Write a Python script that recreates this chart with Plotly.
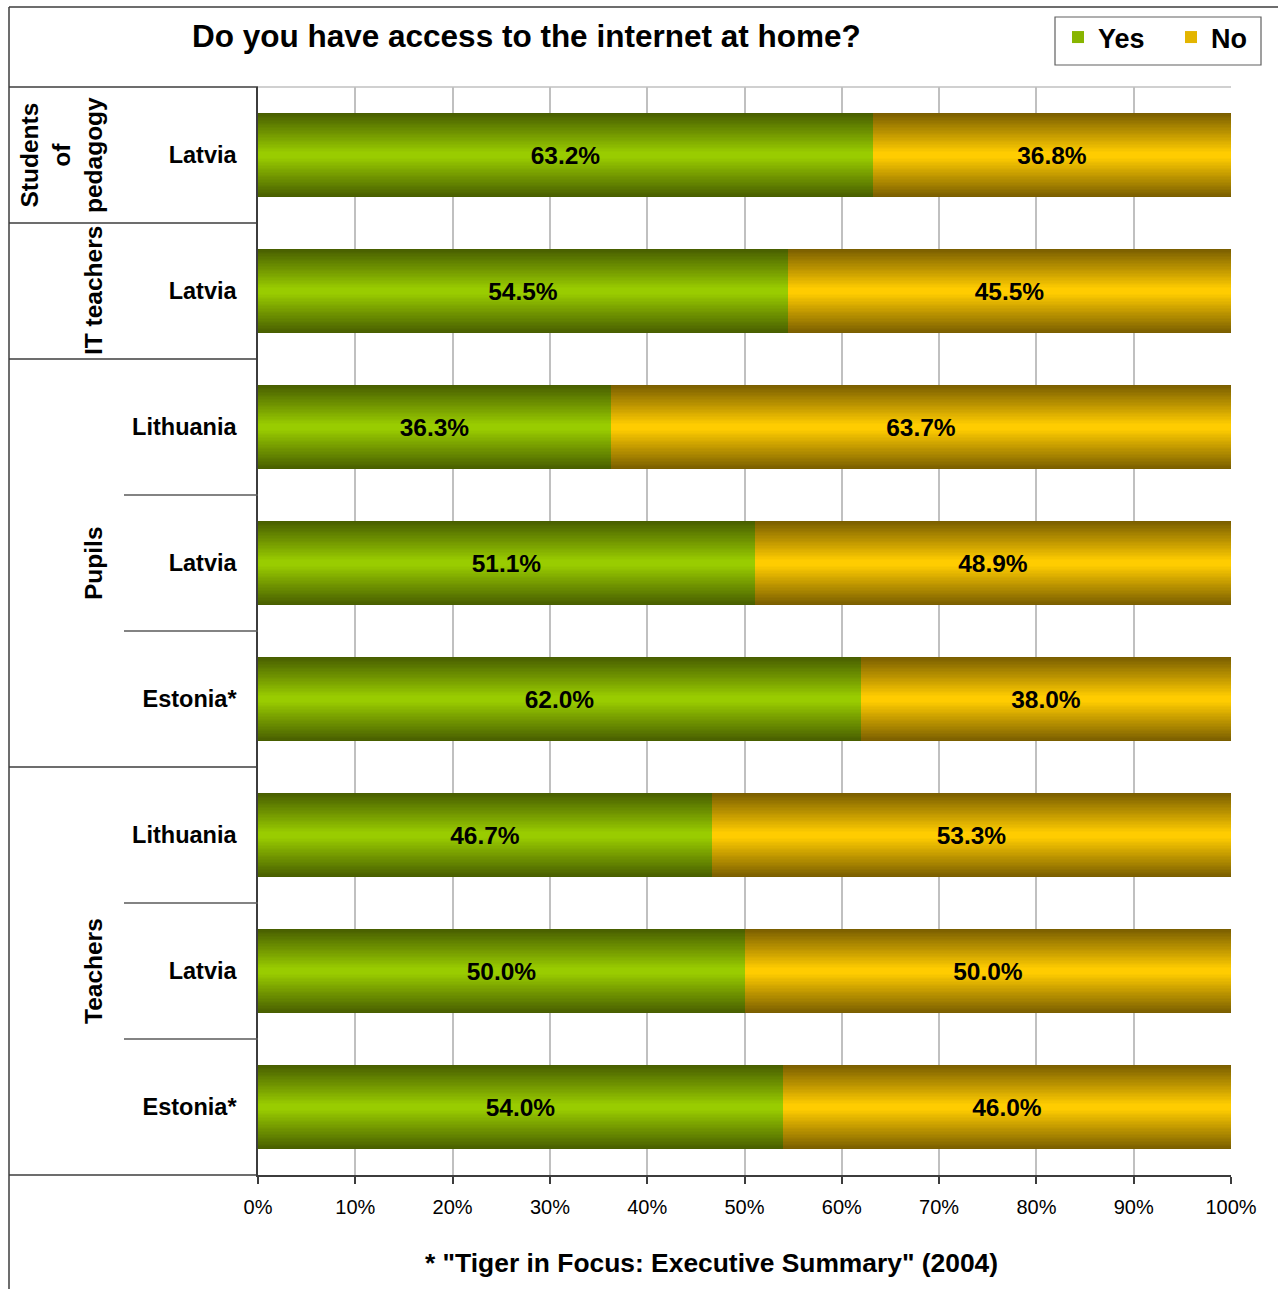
import plotly.graph_objects as go

# ---- data -------------------------------------------------------------
groups = ["Students of pedagogy", "IT teachers", "Pupils", "Pupils", "Pupils",
          "Teachers", "Teachers", "Teachers"]
countries = ["Latvia", "Latvia", "Lithuania", "Latvia", "Estonia*",
             "Lithuania", "Latvia", "Estonia*"]
yes_pct = [63.2, 54.5, 36.3, 51.1, 62.0, 46.7, 50.0, 54.0]
no_pct = [36.8, 45.5, 63.7, 48.9, 38.0, 53.3, 50.0, 46.0]
x_ticks = [0, 10, 20, 30, 40, 50, 60, 70, 80, 90, 100]
x_tick_labels = ["0%", "10%", "20%", "30%", "40%", "50%",
                 "60%", "70%", "80%", "90%", "100%"]

title_text = "Do you have access to the internet at home?"
source_note = '* "Tiger in Focus: Executive Summary" (2004)'

# ---- styling ----------------------------------------------------------
FONT = "Liberation Sans, Arial, sans-serif"
W, H = 1278, 1289
ML, MR, MT, MB = 258, 47, 87, 114
PW, PH = W - ML - MR, H - MT - MB
BAR_W = 0.62
N_LAYERS = 30

yes_edge, yes_mid = (72, 94, 0), (153, 204, 0)
no_edge, no_mid = (122, 94, 0), (255, 204, 0)


def px(x):
    return (x - ML) / PW


def py(y):
    return (H - MB - y) / PH


def mix(a, b, t):
    return "rgb(%d,%d,%d)" % tuple(round(a[i] + (b[i] - a[i]) * t) for i in range(3))


rows = list(range(len(countries)))
fig = go.Figure()


def add_series(name, values, base, edge, mid, legend_id):
    # stacked overlays of shrinking height give the vertical shading
    for k in range(N_LAYERS):
        s = k / N_LAYERS
        fig.add_trace(go.Bar(
            y=rows, x=values, base=base, orientation="h",
            width=BAR_W * (1 - s),
            marker=dict(color=mix(edge, mid, min(1.0, s * 1.08)), line=dict(width=0)),
            name=name, legendgroup=name, legend=legend_id,
            showlegend=(k == 22),
            hoverinfo="skip",
        ))


add_series("Yes", yes_pct, [0] * len(yes_pct), yes_edge, yes_mid, "legend")
add_series("No", no_pct, yes_pct, no_edge, no_mid, "legend2")

# value labels on transparent full-size bars
for vals, base in ((yes_pct, [0] * len(yes_pct)), (no_pct, yes_pct)):
    fig.add_trace(go.Bar(
        y=rows, x=vals, base=base, orientation="h", width=BAR_W,
        marker=dict(color="rgba(0,0,0,0)", line=dict(width=0)),
        texttemplate="%{x:.1f}%", textposition="inside",
        insidetextanchor="middle", textangle=0, constraintext="none",
        textfont=dict(family=FONT, size=24.5, color="black", weight="bold"),
        showlegend=False, hoverinfo="skip",
    ))

# ---- frame and category dividers ---------------------------------------
dark = "#3c3c3c"
shapes = [
    dict(type="line", xref="paper", yref="paper", x0=px(9), x1=px(9), y0=py(7), y1=py(H + 5),
         line=dict(color=dark, width=1.5)),
    dict(type="line", xref="paper", yref="paper", x0=px(9), x1=px(W + 5), y0=py(7), y1=py(7),
         line=dict(color=dark, width=1.5)),
    dict(type="line", xref="paper", yref="paper", x0=px(9), x1=0, y0=1, y1=1,
         line=dict(color=dark, width=1.5)),
    dict(type="line", xref="paper", yref="paper", x0=0, x1=1, y0=1, y1=1,
         line=dict(color="#c0c0c0", width=1.5)),
    dict(type="line", xref="paper", yref="paper", x0=px(9), x1=0, y0=0, y1=0,
         line=dict(color=dark, width=1.5)),
    # legend frame
    dict(type="rect", xref="paper", yref="paper", x0=px(1055), x1=px(1261),
         y0=py(65), y1=py(17), fillcolor="white", line=dict(color="#606060", width=1.2)),
]
for i in range(len(rows) - 1):
    boundary = i + 0.5
    new_group = groups[i] != groups[i + 1]
    shapes.append(dict(
        type="line", xref="paper", yref="y",
        x0=px(9) if new_group else px(124), x1=0, y0=boundary, y1=boundary,
        line=dict(color=dark if new_group else "#5a5a5a", width=1.5),
    ))

# ---- group labels ------------------------------------------------------
annotations = []
seen = []
for g in groups:
    if g not in seen:
        seen.append(g)
for g in seen:
    idx = [i for i, gg in enumerate(groups) if gg == g]
    centre = sum(idx) / len(idx)
    if g == "Students of pedagogy":
        text, xpos = "Students<br>of<br>pedagogy", px(61)
    else:
        text, xpos = g, px(93)
    annotations.append(dict(
        text=text, xref="paper", yref="y", x=xpos, y=centre,
        textangle=-90, showarrow=False, xanchor="center", yanchor="middle",
        font=dict(family=FONT, size=24.5, color="black", weight="bold"),
    ))

annotations.append(dict(
    text=title_text, xref="paper", yref="paper", x=px(526), y=py(36),
    showarrow=False, xanchor="center", yanchor="middle",
    font=dict(family=FONT, size=31.5, color="black", weight="bold"),
))
annotations.append(dict(
    text=source_note, xref="paper", yref="paper", x=px(711), y=py(1263),
    showarrow=False, xanchor="center", yanchor="middle",
    font=dict(family=FONT, size=26.4, color="black", weight="bold"),
))

legend_style = dict(
    orientation="h", xanchor="left", y=py(13), yanchor="top",
    borderwidth=0, bgcolor="rgba(0,0,0,0)",
    font=dict(family=FONT, size=27, color="black", weight="bold"),
)

fig.update_layout(
    width=W, height=H,
    margin=dict(l=ML, r=MR, t=MT, b=MB, pad=0, autoexpand=False),
    paper_bgcolor="white", plot_bgcolor="white",
    barmode="overlay", bargap=0,
    font=dict(family=FONT, color="black"),
    shapes=shapes, annotations=annotations,
    legend=dict(x=px(1058), **legend_style),
    legend2=dict(x=px(1171), **legend_style),
    xaxis=dict(
        range=[0, 100], tickvals=x_ticks, ticktext=x_tick_labels,
        showgrid=True, gridcolor="#c0c0c0", gridwidth=1.5,
        zeroline=False, showline=True, linecolor=dark, linewidth=1.5,
        ticks="outside", ticklen=7, tickcolor=dark, tickwidth=1.5,
        ticklabelstandoff=6,
        tickfont=dict(family=FONT, size=20, color="black"),
        fixedrange=True,
    ),
    yaxis=dict(
        range=[len(rows) - 0.5, -0.5], tickvals=rows, ticktext=countries,
        showgrid=False, zeroline=False, showline=True, linecolor=dark, linewidth=1.5,
        ticks="", ticklabelstandoff=15,
        tickfont=dict(family=FONT, size=23.5, color="black", weight="bold"),
        fixedrange=True,
    ),
)

fig.write_html("out.html", config={"displayModeBar": False})
